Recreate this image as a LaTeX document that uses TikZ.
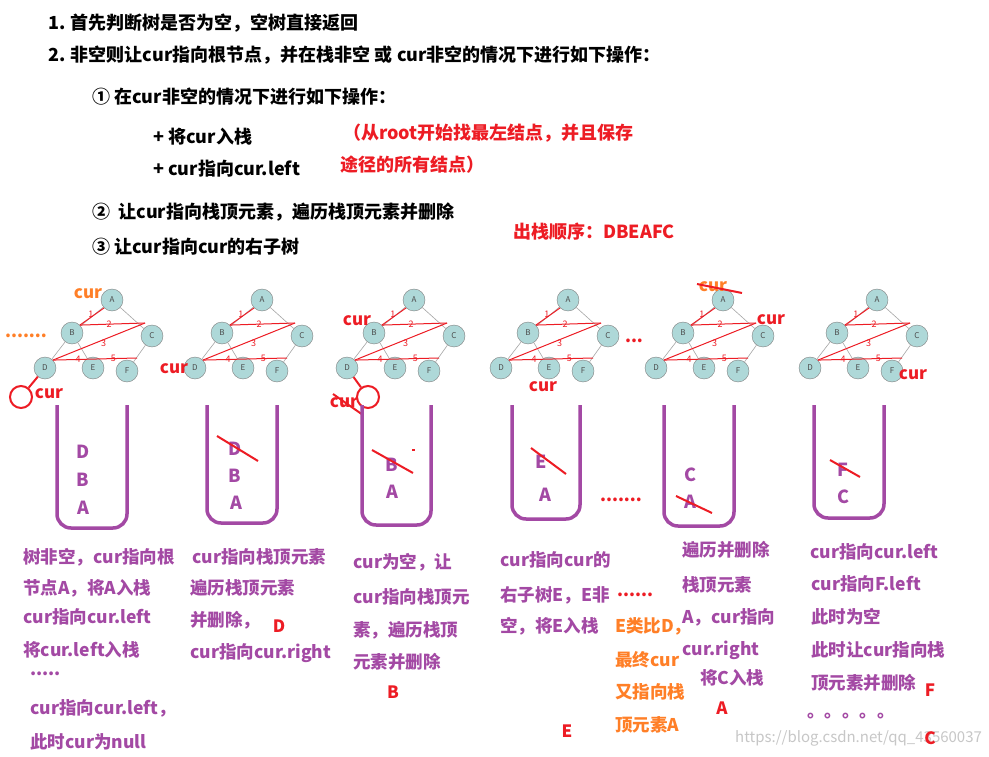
\documentclass[tikz,border=0pt]{standalone}
\usepackage{fontspec}
\setmainfont{Noto Sans CJK SC}
\usepackage{xcolor}
\definecolor{purp}{HTML}{A349A4}
\definecolor{redp}{HTML}{ED1C24}
\definecolor{orap}{HTML}{FF7F27}
\definecolor{treefill}{HTML}{AED8D8}
\tikzset{
	treenode/.style={circle, draw=black!50, fill=treefill, minimum size=22pt, inner sep=0pt, font=\fontsize{8}{8}\selectfont, text=black!70},
	treeedge/.style={draw=black!35, line width=0.6pt},
	redline/.style={draw=redp, line width=1pt},
	num/.style={text=redp, font=\fontsize{9}{9}\selectfont, inner sep=0.5pt},
	blk/.style={anchor=west, inner sep=0pt, font=\bfseries\fontsize{18}{18}\selectfont},
	redtxt/.style={blk, text=redp},
	purtxt/.style={anchor=west, inner sep=0pt, text=purp, font=\bfseries\fontsize{17.5}{17.5}\selectfont},
	oratxt/.style={purtxt, text=orap},
	redmark/.style={anchor=center, inner sep=0pt, text=redp, font=\bfseries\fontsize{17}{17}\selectfont},
	curlbl/.style={anchor=center, inner sep=0pt, text=redp, font=\bfseries\fontsize{17}{17}\selectfont},
	stackitem/.style={anchor=center, inner sep=0pt, text=purp, font=\bfseries\fontsize{18}{18}\selectfont},
	tube/.style={draw=purp, line width=3.5pt, rounded corners=14pt},
	strike/.style={draw=redp, line width=2pt},
	ring/.style={circle, draw=redp, line width=2pt, minimum size=22pt, inner sep=0pt}
}

\begin{document}
\begin{tikzpicture}[x=1pt, y=-1pt]
		\useasboundingbox[fill=white] (0,0) rectangle (989,757);
		% steps
		\node(l1)[blk] at (48,23) {1. 首先判断树是否为空，空树直接返回};
		\node(l2)[blk] at (48,55) {2. 非空则让cur指向根节点，并在栈非空 或 cur非空的情况下进行如下操作：};
		\node(s1)[blk] at (92,97) {① 在cur非空的情况下进行如下操作：};
		\node(p1)[blk] at (153,137) {+ 将cur入栈};
		\node(p2)[blk] at (153,169) {+ cur指向cur.left};
		\node(n1)[redtxt] at (343,133) {（从root开始找最左结点，并且保存};
		\node(n2)[redtxt] at (340,165) {途径的所有结点）};
		\node(s2)[blk] at (92,212) {②\ \ 让cur指向栈顶元素，遍历栈顶元素并删除};
		\node(s3)[blk] at (92,247) {③ 让cur指向cur的右子树};
		\node(ord)[redtxt] at (513,232) {出栈顺序：DBEAFC};

		% trees
		\foreach \i/\ax in {1/112, 2/262, 3/414, 4/568, 5/723, 6/877}{
			\node(A\i)[treenode] at (\ax,300) {A};
			\node(B\i)[treenode] at (\ax-40,333) {B};
			\node(C\i)[treenode] at (\ax+40,336) {C};
			\node(D\i)[treenode] at (\ax-67,368) {D};
			\node(E\i)[treenode] at (\ax-19,368) {E};
			\node(F\i)[treenode] at (\ax+15,371) {F};
			\draw[treeedge] (A\i) -- (B\i) (A\i) -- (C\i) (B\i) -- (D\i) (B\i) -- (E\i) (C\i) -- (F\i);
			\coordinate (k\i) at (\ax+33,323);
			\coordinate (m\i) at (\ax+25,358);
			\draw[redline] (B\i.north east) -- node[num, left, pos=0.6] {1} (A\i.south west);
			\draw[redline] (B\i.north east) -- node[num, pos=0.45] {2} (k\i);
			\draw[redline] (k\i) -- node[num, pos=0.45, below=-1pt] {3} (D\i.north east);
			\draw[redline] (D\i.north east) -- node[num, pos=0.3] {4} node[num, pos=0.72] {5} (m\i);
		}

		% cur marks
		\node(c1)[curlbl, text=orap] at (88,294) {cur};
		\node(dots1)[curlbl, text=orap] at (26,336) {.......};
		\node(r1)[ring] at (21,397) {};
		\draw[strike] (D1) -- (r1);
		\node(c1b)[curlbl] at (49,394) {cur};
		\node(c2)[curlbl] at (174,369) {cur};
		\node(c3)[curlbl] at (357,321) {cur};
		\node(r3)[ring] at (368,397) {};
		\draw[strike] (D3) -- (r3);
		\node(c3b)[curlbl] at (344,403) {cur};
		\draw[strike] (333,394) -- (363,415);
		\node(c4)[curlbl] at (543,387) {cur};
		\node(dots4)[curlbl] at (634,341) {...};
		\node(c5)[curlbl, text=orap] at (713,287) {cur};
		\draw[strike] (697,284) -- (742,293);
		\node(c5b)[curlbl] at (771,320) {cur};
		\node(c6)[curlbl] at (913,375) {cur};

		% stacks
		\draw[tube] (57,405) -- (57,528) -- (127,528) -- (127,405);
		\draw[tube] (207,405) -- (207,523) -- (277,523) -- (277,405);
		\draw[tube] (362,405) -- (362,525) -- (431,525) -- (431,405);
		\draw[tube] (512,405) -- (512,519) -- (580,519) -- (580,405);
		\draw[tube] (664,405) -- (664,526) -- (734,526) -- (734,405);
		\draw[tube] (814,405) -- (814,518) -- (884,518) -- (884,405);
		\node(sD1)[stackitem] at (83,452) {D};
		\node(sB1)[stackitem] at (83,480) {B};
		\node(sA1)[stackitem] at (83,508) {A};
		\node(sD2)[stackitem] at (235,449) {D};
		\node(sB2)[stackitem] at (235,476) {B};
		\node(sA2)[stackitem] at (236,503) {A};
		\draw[strike] (217,436) -- (258,461);
		\node(sB3)[stackitem] at (392,465) {B};
		\node(sA3)[stackitem] at (392,492) {A};
		\draw[strike] (372,450) -- (413,473);
		\draw[strike] (412,450) -- (415,450);
		\node(sE4)[stackitem] at (541,462) {E};
		\node(sA4)[stackitem] at (545,495) {A};
		\draw[strike] (531,448) -- (566,474);
		\node(dots5)[curlbl] at (621,500) {.......};
		\node(sC5)[stackitem] at (690,475) {C};
		\node(sA5)[stackitem] at (690,502) {A};
		\draw[strike] (676,496) -- (712,513);
		\node(sF6)[stackitem] at (843,470) {F};
		\node(sC6)[stackitem] at (843,497) {C};
		\draw[strike] (830,460) -- (860,477);

		% notes
		\node(a1)[purtxt] at (23,557) {树非空，cur指向根};
		\node(a2)[purtxt] at (23,588) {节点A，将A入栈};
		\node(a3)[purtxt] at (23,617) {cur指向cur.left};
		\node(a4)[purtxt] at (23,650) {将cur.left入栈};
		\node(a5)[purtxt] at (30,674) {.....};
		\node(a6)[purtxt] at (30,708) {cur指向cur.left，};
		\node(a7)[purtxt] at (30,742) {此时cur为null};
		\node(b1)[purtxt] at (192,557) {cur指向栈顶元素};
		\node(b2)[purtxt] at (190,588) {遍历栈顶元素};
		\node(b3)[purtxt] at (190,620) {并删除，};
		\node(b4)[redmark] at (279,626) {D};
		\node(b5)[purtxt] at (190,653) {cur指向cur.right};
		\node(e1)[purtxt] at (353,562) {cur为空，让};
		\node(e2)[purtxt] at (353,597) {cur指向栈顶元};
		\node(e3)[purtxt] at (353,630) {素，遍历栈顶};
		\node(e4)[purtxt] at (353,662) {元素并删除};
		\node(e5)[redmark] at (393,692) {B};
		\node(f1)[purtxt] at (500,560) {cur指向cur的};
		\node(f2)[purtxt] at (500,595) {右子树E，E非};
		\node(f3)[purtxt] at (500,626) {空，将E入栈};
		\node(f4)[redmark] at (567,731) {E};
		\node(g0)[anchor=west, inner sep=0pt, text=redp, font=\bfseries\fontsize{17}{17}\selectfont] at (617,595) {......};
		\node(g1)[oratxt] at (615,626) {E类比D，};
		\node(g2)[oratxt] at (615,660) {最终cur};
		\node(g3)[oratxt] at (615,692) {又指向栈};
		\node(g4)[oratxt] at (615,725) {顶元素A};
		\node(h1)[purtxt] at (682,550) {遍历并删除};
		\node(h2)[purtxt] at (682,585) {栈顶元素};
		\node(h3)[purtxt] at (682,617) {A，cur指向};
		\node(h4)[purtxt] at (682,650) {cur.right};
		\node(h5)[purtxt] at (700,678) {将C入栈};
		\node(h6)[redmark] at (722,708) {A};
		\node(w1)[anchor=west, inner sep=0pt, text=black!22, font=\fontsize{15}{15}\selectfont] at (735,738) {https://blog.csdn.net/qq\_43560037};
		\node(i1)[purtxt] at (810,552) {cur指向cur.left};
		\node(i2)[purtxt] at (811,584) {cur指向F.left};
		\node(i3)[purtxt] at (811,617) {此时为空};
		\node(i4)[purtxt] at (811,650) {此时让cur指向栈};
		\node(i5)[purtxt] at (811,683) {顶元素并删除};
		\node(i6)[redmark] at (930,690) {F};
		\node(i7)[purtxt] at (807,716) {。。。。。};
		\node(i8)[redmark] at (930,738) {C};
\end{tikzpicture}
\end{document}
